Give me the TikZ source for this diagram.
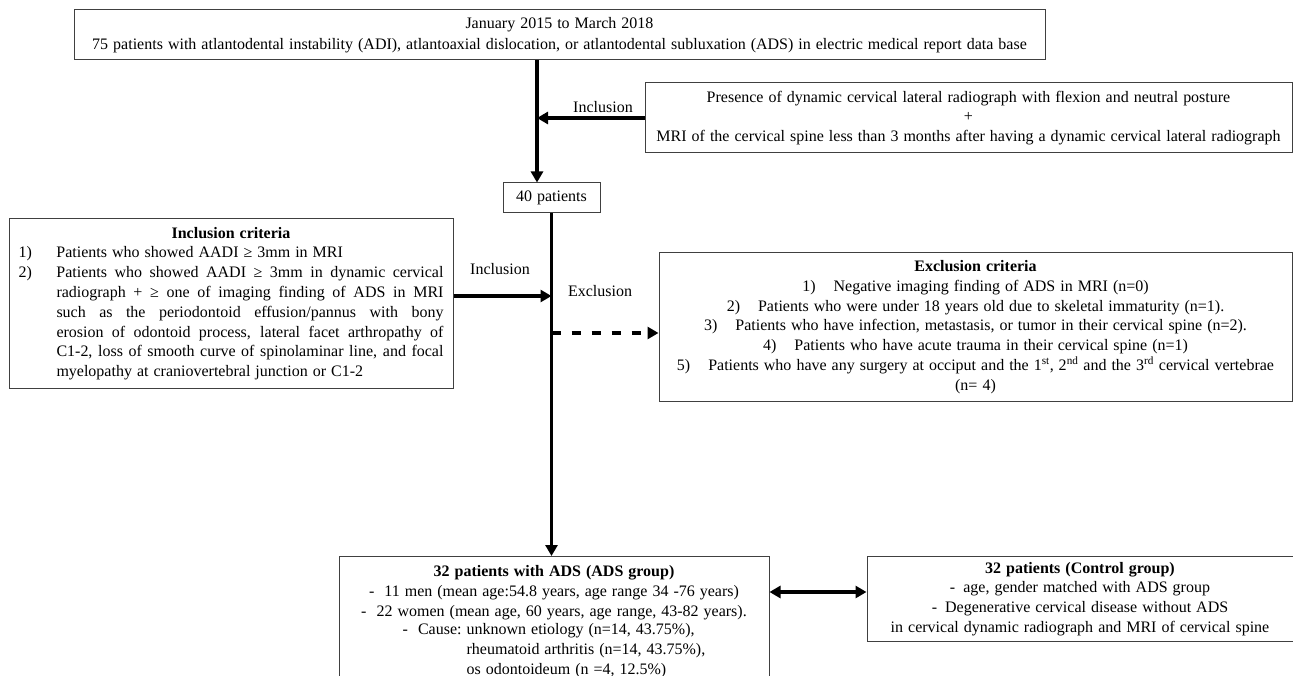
\documentclass[tikz,border=0pt]{standalone}
\usepackage{fontspec}
\setmainfont{Liberation Serif}[WordSpace=1.25]
\usetikzlibrary{arrows.meta,positioning}

\newcommand{\fs}{\fontsize{16}{19.8}\selectfont}
\newcommand{\num}[1]{\makebox[38pt][l]{#1}}

\tikzset{
  box/.style={draw=black!75, line width=1pt, align=center, inner sep=0pt, font=\fs},
  lbl/.style={inner sep=0pt, font=\fs},
  flow/.style={line width=3.6pt, -{Triangle[length=11pt,width=12pt]}},
  both/.style={line width=3.6pt, {Triangle[length=11pt,width=12pt]}-{Triangle[length=11pt,width=12pt]}},
}

\begin{document}
\begin{tikzpicture}[x=1pt,y=-1pt]
   \clip (0,0) rectangle (1293,676);

   \node[box, minimum width=971pt, minimum height=50pt] (top) at (559.5,35)
      {January 2015 to March 2018\\[1pt]
       75 patients with atlantodental instability (ADI), atlantoaxial dislocation, or atlantodental subluxation (ADS) in electric medical report data base} ; %
   \node[box, minimum width=647pt, minimum height=70pt] (presence) at (968.5,118)
      {Presence of dynamic cervical lateral radiograph with flexion and neutral posture\\
       +\\
       MRI of the cervical spine less than 3 months after having a dynamic cervical lateral radiograph} ; %
   \node[box, minimum width=97pt, minimum height=30pt] (forty) at (551.5,198) {40 patients} ; %

   \node[box, text width=425pt, inner xsep=9.5pt, minimum height=169pt, align=justify] (incl) at (231,303.5)
      {{\centering\bfseries Inclusion criteria\par}
       \hangindent=38pt\hangafter=1\noindent\num{1)}Patients who showed AADI ≥ 3mm in MRI\par
       \hangindent=38pt\hangafter=1\noindent\num{2)}Patients who showed AADI ≥ 3mm in dynamic cervical\linebreak
       radiograph + ≥ one of imaging finding of ADS in MRI\linebreak
       such as the periodontoid effusion/pannus with bony\linebreak
       erosion of odontoid process, lateral facet arthropathy of\linebreak
       C1-2, loss of smooth curve of spinolaminar line, and focal\linebreak
       myelopathy at craniovertebral junction or C1-2\par} ; %

   \node[box, minimum width=633pt, minimum height=148pt] (excl) at (975.5,327)
      {\textbf{Exclusion criteria}\\
       1)\hspace{18pt}Negative imaging finding of ADS in MRI (n=0)\\
       2)\hspace{18pt}Patients who were under 18 years old due to skeletal immaturity (n=1).\\
       3)\hspace{18pt}Patients who have infection, metastasis, or tumor in their cervical spine (n=2).\\
       4)\hspace{18pt}Patients who have acute trauma in their cervical spine (n=1)\\
       5)\hspace{18pt}Patients who have any surgery at occiput and the 1\textsuperscript{st}, 2\textsuperscript{nd} and the 3\textsuperscript{rd} cervical vertebrae\\
       (n= 4)} ; %

   \node[box, minimum width=430pt, inner ysep=9pt, anchor=north] (ads) at (554,556)
      {\textbf{32 patients with ADS (ADS group)}\\
       -\hspace{10pt}11 men (mean age:54.8 years, age range 34 -76 years)\\
       -\hspace{10pt}22 women (mean age, 60 years, age range, 43-82 years).\\
       \begin{tabular}{@{}l@{}l@{}}
          -\hspace{10pt}Cause:~ & unknown etiology (n=14, 43.75\%),\\
                               & rheumatoid arthritis (n=14, 43.75\%),\\
                               & os odontoideum (n =4, 12.5\%)
       \end{tabular}} ; %
   \node[box, minimum width=426pt, minimum height=85pt, right=97pt of ads.north east, anchor=north west] (ctrl)
      {\textbf{32 patients (Control group)}\\
       -\hspace{8pt}age, gender matched with ADS group\\
       -\hspace{8pt}Degenerative cervical disease without ADS\\
       in cervical dynamic radiograph and MRI of cervical spine} ; %

   \node[lbl] (inc1) at (603,107) {Inclusion} ; %
   \node[lbl] (inc2) at (500,269) {Inclusion} ; %
   \node[lbl] (exc)  at (600,291) {Exclusion} ; %

   \coordinate (j1) at (537,118) ;
   \coordinate (j2) at (forty.south |- 0,296) ;
   \coordinate (j3) at (forty.south |- 0,333) ;
   \coordinate (j4) at (ads.east |- 0,592) ;

  \draw[flow] (top.south -| j1) -- (forty.north -| j1) ;
  \draw[flow] (presence.west) -- (j1) ;
  \draw[flow] (forty.south) -- (forty.south |- ads.north) ;
  \draw[flow] (incl.east |- j2) -- (j2) ;
  \draw[flow, dash pattern=on 9pt off 11pt] (j3) -- (excl.west |- j3) ;
  \draw[both] (j4) -- (ctrl.west |- j4) ;

\end{tikzpicture}
\end{document}
